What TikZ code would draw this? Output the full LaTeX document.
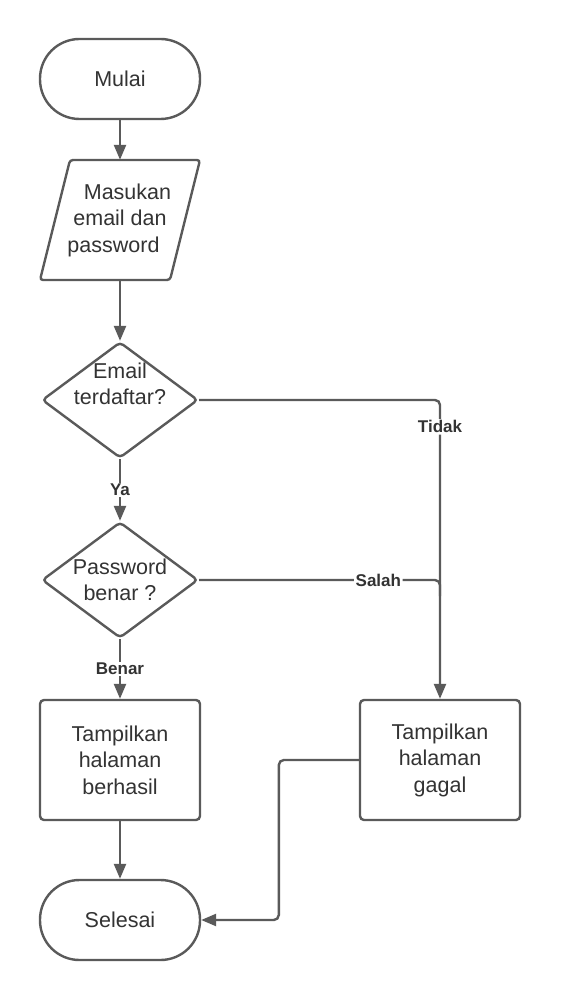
\documentclass[tikz,border=0pt]{standalone}
\usepackage{fontspec}
\setmainfont{Liberation Sans}
\usetikzlibrary{arrows.meta,shapes.geometric,calc}
\definecolor{linegray}{HTML}{5A5A5A}
\definecolor{textgray}{HTML}{333333}
\begin{document}
\begin{tikzpicture}[x=1pt,y=-1pt,
  every node/.style={text=textgray, font=\fontsize{21.5}{26.5}\selectfont},
  outline/.style={draw=linegray, line width=2.4pt, fill=white},
  terminal/.style={outline, rectangle, rounded corners=39.5pt, minimum width=160pt, minimum height=80pt, inner sep=0pt},
  process/.style={outline, rectangle, rounded corners=4pt, minimum width=160pt, minimum height=120pt, inner sep=0pt, align=center},
  decision/.style={outline, diamond, rounded corners=4pt, minimum width=156pt, minimum height=116pt, inner sep=0pt},
  plain/.style={inner sep=0pt, align=center},
  flow/.style={draw=linegray, line width=2.4pt, -{Triangle[width=12pt,length=15pt]}},
  wire/.style={draw=linegray, line width=2.4pt},
  lbl/.style={fill=white, inner sep=1.5pt, font=\fontsize{17}{19}\selectfont\bfseries, text=textgray}
]
\fill[white] (0,0) rectangle (560,1000);
\useasboundingbox (0,0) rectangle (560,1000);

% start
\node[terminal] (mulai) at (120,79) {Mulai};

% input parallelogram
\draw[outline, rounded corners=3pt] (70,160) -- (200,160) -- (170,280) -- (40,280) -- cycle;
\node[plain, minimum height=120pt] (input) at (120,220)
  {\rule{15pt}{0pt}Masukan\\email dan\\password\rule{13pt}{0pt}};

% decisions
\node[decision] (email) at (120,400) {};
\node[plain] (emailtxt) at (120,384) {Email\\terdaftar?};
\node[decision] (password) at (120,580) {};
\node[plain] (passwordtxt) at (120,580) {Password\\benar ?};

% processes
\node[process] (berhasil) at (120,760) {Tampilkan\\halaman\\berhasil};
\node[process] (gagal) at (440,760) {Tampilkan\\halaman\\gagal};

% end
\node[terminal] (selesai) at (120,920) {Selesai};

\coordinate (join) at (440,596);

% connectors
\draw[flow] (mulai.south) -- (input.north);
\draw[flow] (input.south) -- (email.north);
\draw[flow] (email.south) -- node[lbl]{Ya} (password.north);
\draw[flow] (password.south) -- node[lbl]{Benar} (berhasil.north);
\draw[flow] (berhasil.south) -- (selesai.north);
\draw[flow, rounded corners=5pt] (email.east) -| node[lbl, pos=0.545]{Tidak} (gagal.north);
\draw[wire, rounded corners=5pt] (password.east) -| node[lbl, pos=0.372]{Salah} (join);
\draw[flow, rounded corners=5pt] (gagal.west) -- ++(-80,0) |- (selesai.east);
\end{tikzpicture}
\end{document}
